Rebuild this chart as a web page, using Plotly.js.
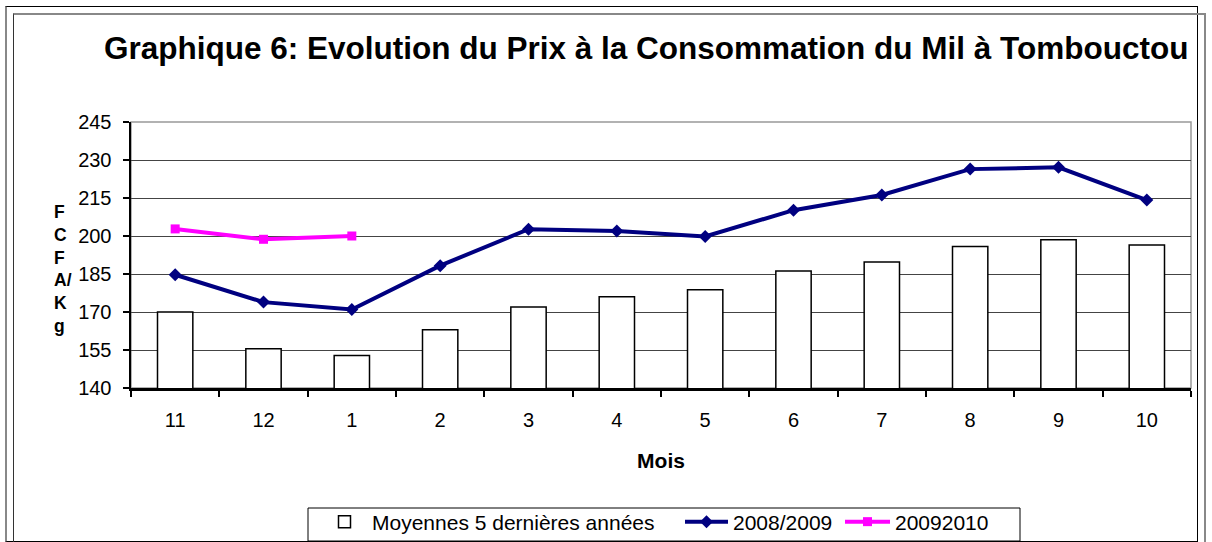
<!DOCTYPE html>
<html>
<head>
<meta charset="utf-8">
<script src="https://cdn.plot.ly/plotly-3.0.1.min.js"></script>
<style>
  html, body { margin: 0; padding: 0; background: #fff; }
  #wrap { position: relative; width: 1212px; height: 542px; overflow: hidden; }
  #chart { position: absolute; left: 0; top: 0; width: 1212px; height: 542px; }
  .frame { position: absolute; pointer-events: none; box-sizing: border-box; }
</style>
</head>
<body>
<div id="wrap">
  <div id="chart"></div>
  <div class="frame" style="left:5px; top:6px; width:1193px; height:536px; border-top:1.5px solid #000; border-right:1.5px solid #000; border-bottom:1.5px solid #000; border-left:2px solid #888;"></div>
  <div class="frame" style="left:13px; top:13px; width:1193px; height:540px; border-top:2px solid #888; border-right:2px solid #888; border-left:1.5px solid #333;"></div>
</div>
<script>
const months = ['11', '12', '1', '2', '3', '4', '5', '6', '7', '8', '9', '10'];
const moyennes5ans = [170, 155.5, 152.8, 163, 172, 176, 178.8, 186.2, 189.7, 195.9, 198.5, 196.4];
const prix2008_2009 = [184.7, 173.9, 171, 188.3, 202.7, 202, 199.8, 210.2, 216.2, 226.4, 227.1, 214.2];
const prix2009_2010 = [202.8, 198.7, 200];
const months2009_2010 = ['11', '12', '1'];
const yTicks = [140, 155, 170, 185, 200, 215, 230, 245];

const FONT = 'Liberation Sans, Arial, sans-serif';

// plot-area geometry in pixels (used only to convert layout positions to paper units)
const PL = 131, PR = 1191, PT = 122, PB = 388;
const px = v => (v - PL) / (PR - PL);
const py = v => (PB - v) / (PB - PT);

const traces = [
  {
    type: 'bar',
    name: 'Moyennes 5 dernières années',
    x: months,
    y: moyennes5ans,
    marker: { color: '#ffffff', line: { color: '#000000', width: 1.5 } },
    legend: 'legend'
  },
  {
    type: 'scatter',
    mode: 'lines+markers',
    name: '2008/2009',
    x: months,
    y: prix2008_2009,
    line: { color: '#000080', width: 4 },
    marker: { symbol: 'diamond', size: 10, color: '#000080' },
    legend: 'legend2'
  },
  {
    type: 'scatter',
    mode: 'lines+markers',
    name: '20092010',
    x: months2009_2010,
    y: prix2009_2010,
    line: { color: '#ff00ff', width: 4 },
    marker: { symbol: 'square', size: 9, color: '#ff00ff' },
    legend: 'legend3'
  }
];

const legendBase = {
  orientation: 'h',
  xanchor: 'left',
  yanchor: 'middle',
  y: py(522),
  borderwidth: 0,
  bgcolor: 'rgba(0,0,0,0)',
  font: { family: FONT, size: 21, color: '#000' }
};

const layout = {
  width: 1212,
  height: 542,
  margin: { l: PL, r: 1212 - PR, t: PT, b: 542 - PB, autoexpand: false },
  paper_bgcolor: '#ffffff',
  plot_bgcolor: '#ffffff',
  font: { family: FONT, size: 20, color: '#000' },
  bargap: 0.6,
  showlegend: true,
  title: {
    text: '<b>Graphique 6: Evolution du Prix à la Consommation du Mil à Tombouctou</b>',
    font: { family: FONT, size: 31.5, color: '#000' },
    xref: 'container', yref: 'container',
    x: 104 / 1212, xanchor: 'left',
    y: 1 - 48 / 542, yanchor: 'middle'
  },
  xaxis: {
    type: 'category',
    categoryorder: 'array',
    categoryarray: months,
    range: [-0.5, 11.5],
    autorange: false,
    showline: true, linecolor: '#000', linewidth: 2.5,
    ticks: 'outside', tickson: 'boundaries', ticklen: 6, tickwidth: 2, tickcolor: '#000',
    ticklabelstandoff: 12,
    showgrid: false,
    zeroline: false,
    tickfont: { family: FONT, size: 20 },
    title: { text: '<b>Mois</b>', font: { family: FONT, size: 21 }, standoff: 24 }
  },
  yaxis: {
    range: [140, 245],
    autorange: false,
    tickvals: yTicks,
    showline: true, linecolor: '#000', linewidth: 2.5,
    ticks: 'outside', ticklen: 6, tickwidth: 2, tickcolor: '#000',
    ticklabelstandoff: 7,
    showgrid: true, gridcolor: '#444', gridwidth: 1,
    zeroline: false,
    tickfont: { family: FONT, size: 20 }
  },
  shapes: [
    { type: 'rect', xref: 'paper', yref: 'paper', x0: 0, x1: 1, y0: 0, y1: 1,
      line: { color: '#999', width: 1.5 }, layer: 'below' },
    { type: 'rect', xref: 'paper', yref: 'paper',
      x0: px(308), x1: px(1020), y0: py(541), y1: py(508),
      line: { color: '#000', width: 1 }, fillcolor: 'rgba(0,0,0,0)', layer: 'above' }
  ],
  annotations: [
    {
      text: '<b>F<br>C<br>F<br>A/<br>K<br>g</b>',
      xref: 'paper', yref: 'paper',
      x: px(63), y: py(268.5),
      xanchor: 'center', yanchor: 'middle',
      showarrow: false,
      align: 'left',
      font: { family: FONT, size: 17.5, color: '#000' }
    }
  ],
  legend: Object.assign({}, legendBase, { x: px(317), itemwidth: 45 }),
  legend2: Object.assign({}, legendBase, { x: px(680), itemwidth: 43 }),
  legend3: Object.assign({}, legendBase, { x: px(840), itemwidth: 45 })
};

Plotly.newPlot('chart', traces, layout, { displayModeBar: false, staticPlot: true });
</script>
</body>
</html>
